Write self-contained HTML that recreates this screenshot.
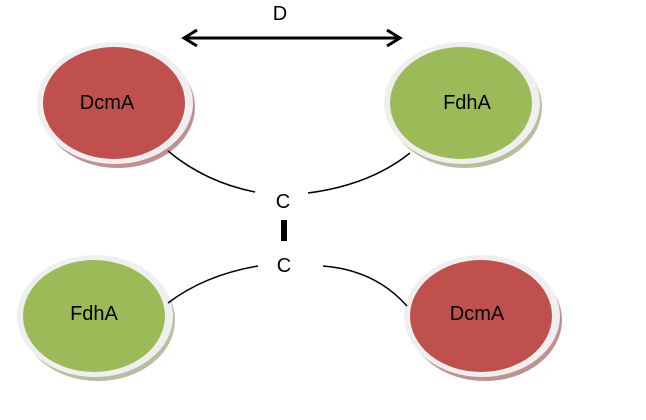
<!DOCTYPE html>
<html><head><style>body{margin:0;background:#fff;}svg{display:block}</style></head><body>
<svg width="646" height="420" xmlns="http://www.w3.org/2000/svg" font-family="Liberation Sans, sans-serif">
<g>
<ellipse cx="118" cy="107" rx="77" ry="61" fill="#c09090"/>
<ellipse cx="115" cy="103" rx="78" ry="61" fill="#f0efef"/>
<ellipse cx="114" cy="103" rx="71" ry="56" fill="#c0504d"/>
<text x="107" y="109" font-size="20" text-anchor="middle">DcmA</text>

<ellipse cx="465" cy="107" rx="77" ry="61" fill="#b5bfa0"/>
<ellipse cx="462" cy="103" rx="78" ry="61" fill="#f0efef"/>
<ellipse cx="461" cy="103" rx="71" ry="56" fill="#9bbb59"/>
<text x="467" y="109" font-size="20" text-anchor="middle">FdhA</text>

<ellipse cx="98" cy="320" rx="77" ry="61" fill="#b5bfa0"/>
<ellipse cx="95" cy="316" rx="78" ry="61" fill="#f0efef"/>
<ellipse cx="94" cy="316" rx="71" ry="56" fill="#9bbb59"/>
<text x="94" y="320" font-size="20" text-anchor="middle">FdhA</text>

<ellipse cx="485" cy="320" rx="77" ry="61" fill="#c09090"/>
<ellipse cx="482" cy="316" rx="78" ry="61" fill="#f0efef"/>
<ellipse cx="481" cy="316" rx="71" ry="56" fill="#c0504d"/>
<text x="477" y="320" font-size="20" text-anchor="middle">DcmA</text>
</g>
<g fill="none" stroke="#000" stroke-width="1.5">
<path d="M168 151 Q205 182 255 192"/>
<path d="M308 193 Q370 185 410 153"/>
<path d="M168 303 Q205 275 258 266"/>
<path d="M323 266 Q375 270 407 306"/>
<path d="M184 38 L400 38" stroke-width="3"/>
<path d="M197 30 L184 38 L197 46 M387 30 L400 38 L387 46" stroke-width="3"/>
</g>
<rect x="281" y="220" width="6" height="21" fill="#000"/>
<text x="283" y="208" font-size="20" text-anchor="middle">C</text>
<text x="284" y="272" font-size="20" text-anchor="middle">C</text>
<text x="280" y="20" font-size="20" text-anchor="middle">D</text>
</svg>
</body></html>
